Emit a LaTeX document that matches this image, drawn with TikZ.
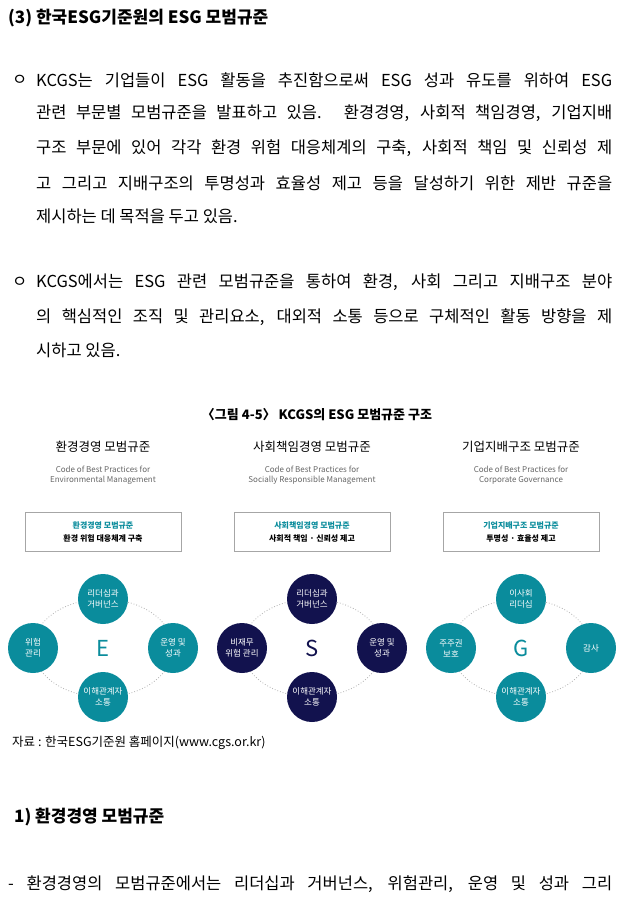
\documentclass[tikz,border=0pt]{standalone}
\usepackage{fontspec}
\setmainfont{Noto Sans CJK KR}
\definecolor{teal1}{HTML}{0A8C9C}
\definecolor{navy1}{HTML}{12124E}
\definecolor{graytx}{HTML}{666666}
\begin{document}
\begin{tikzpicture}[x=1pt,y=-1pt,
  body/.style={anchor=west,inner sep=0,font=\fontsize{16.5}{16.5}\selectfont},
  ttl/.style={inner sep=0,font=\fontsize{12.5}{12.5}\selectfont},
  code/.style={inner sep=0,font=\fontsize{8}{10}\selectfont,text=graytx,align=center},
  boxx/.style={draw=gray!70,minimum width=156,minimum height=39,align=center,font=\fontsize{8}{13}\selectfont\bfseries},
  circ/.style={circle,minimum size=50,inner sep=0,text=white,align=center,font=\fontsize{8.5}{11}\selectfont},
  ring/.style={draw=gray!60,dotted,line width=0.8pt}]
\useasboundingbox[fill=white] (0,0) rectangle (634,904);
\node[anchor=west,inner sep=0,font=\fontsize{17}{17}\selectfont\bfseries] (h) at (8,18) {(3) 한국ESG기준원의 ESG 모범규준};
\node[body] (b0) at (12,80) {ㅇ};
\node[body] (l1) at (36,80) {\makebox[576pt][s]{KCGS는 기업들이 ESG 활동을 추진함으로써 ESG 성과 유도를 위하여 ESG}};
\node[body] (l2) at (36,113) {\makebox[576pt][s]{관련 부문별 모범규준을 발표하고 있음. 환경경영, 사회적 책임경영, 기업지배}};
\node[body] (l3) at (36,148) {\makebox[576pt][s]{구조 부문에 있어 각각 환경 위험 대응체계의 구축, 사회적 책임 및 신뢰성 제}};
\node[body] (l4) at (36,183) {\makebox[576pt][s]{고 그리고 지배구조의 투명성과 효율성 제고 등을 달성하기 위한 제반 규준을}};
\node[body] (l5) at (36,216) {제시하는 데 목적을 두고 있음.};
\node[body] (b1) at (12,282) {ㅇ};
\node[body] (m1) at (36,282) {\makebox[576pt][s]{KCGS에서는 ESG 관련 모범규준을 통하여 환경, 사회 그리고 지배구조 분야}};
\node[body] (m2) at (36,317) {\makebox[576pt][s]{의 핵심적인 조직 및 관리요소, 대외적 소통 등으로 구체적인 활동 방향을 제}};
\node[body] (m3) at (36,350) {시하고 있음.};
\node[inner sep=0,font=\fontsize{13}{13}\selectfont\bfseries] (ft) at (317,415) {〈그림 4-5〉 KCGS의 ESG 모범규준 구조};
\foreach \cx/\t/\ca/\cb/\bb/\col/\L/\ta/\tl/\tr/\tb/\n in {
 103/환경경영 모범규준/Code of Best Practices for/Environmental Management/환경 위험 대응체계 구축/teal1/E/리더십과\\거버넌스/위험\\관리/운영 및\\성과/이해관계자\\소통/c1,
 312/사회책임경영 모범규준/Code of Best Practices for/Socially Responsible Management/사회적 책임 · 신뢰성 제고/navy1/S/리더십과\\거버넌스/비재무\\위험 관리/운영 및\\성과/이해관계자\\소통/c2,
 521/기업지배구조 모범규준/Code of Best Practices for/Corporate Governance/투명성 · 효율성 제고/teal1/G/이사회\\리더십/주주권\\보호/감사/이해관계자\\소통/c3}{
 \node[ttl] (\n t) at (\cx,447) {\t};
 \node[code] (\n c) at (\cx,475) {\ca\\\cb};
 \node[boxx] (\n b) at (\cx,532) {\textcolor{teal1}{\t}\\\bb};
 \draw[ring] (\cx,648) ellipse (70 and 49);
 \node[circ,fill=\col] (\n u) at (\cx,599) {\ta};
 \node[circ,fill=\col] (\n l) at (\cx-70,648) {\tl};
 \node[circ,fill=\col] (\n r) at (\cx+70,648) {\tr};
 \node[circ,fill=\col] (\n d) at (\cx,697) {\tb};
 \node[inner sep=0,text=\col,font=\fontsize{22}{22}\selectfont] (\n L) at (\cx,648) {\L};
}
\node[anchor=west,inner sep=0,font=\fontsize{12.5}{12.5}\selectfont] (src) at (12,743) {자료 : 한국ESG기준원 홈페이지(www.cgs.or.kr)};
\node[anchor=west,inner sep=0,font=\fontsize{17}{17}\selectfont\bfseries] (h2) at (14,817) {1) 환경경영 모범규준};
\node[body] (last) at (8,884) {\makebox[604pt][s]{- 환경경영의 모범규준에서는 리더십과 거버넌스, 위험관리, 운영 및 성과 그리}};
\end{tikzpicture}
\end{document}
